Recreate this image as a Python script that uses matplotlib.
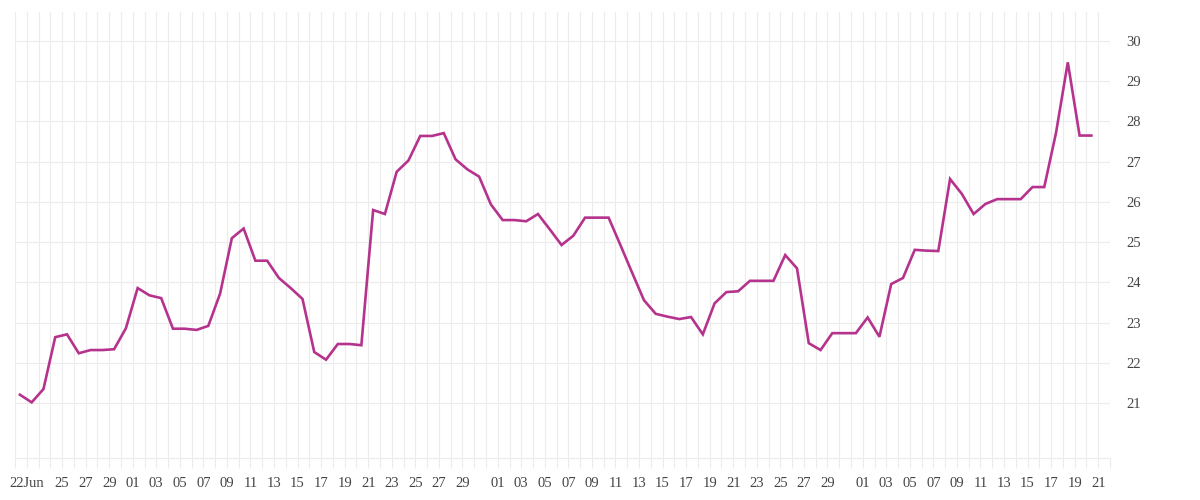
import pandas as pd
import matplotlib
matplotlib.use("Agg")
import matplotlib.pyplot as plt

# daily series, one reading per day (sampled mid-morning)
start = "2023-06-21 10:00"
values = [
    21.21, 21.02, 21.35, 22.64, 22.71, 22.24, 22.32, 22.32, 22.34, 22.86,
    23.86, 23.68, 23.61, 22.85, 22.85, 22.82, 22.92, 23.72, 25.10, 25.34,
    24.54, 24.54, 24.11, 23.86, 23.59, 22.27, 22.08, 22.47, 22.47, 22.44,
    25.80, 25.70, 26.75, 27.03, 27.64, 27.64, 27.71, 27.06, 26.81, 26.63,
    25.94, 25.55, 25.55, 25.52, 25.70, 25.32, 24.93, 25.16, 25.61, 25.61,
    25.61, 24.93, 24.24, 23.56, 23.22, 23.15, 23.09, 23.14, 22.71, 23.48,
    23.76, 23.78, 24.04, 24.04, 24.04, 24.68, 24.35, 22.49, 22.32, 22.74,
    22.74, 22.74, 23.13, 22.65, 23.96, 24.11, 24.81, 24.79, 24.78, 26.57,
    26.20, 25.70, 25.95, 26.07, 26.07, 26.07, 26.37, 26.37, 27.72, 29.47,
    27.65, 27.65,
]
y_ticks = [21, 22, 23, 24, 25, 26, 27, 28, 29, 30]
x_start, x_end = "2023-06-21", "2023-09-22"

GRID = "#ececec"
LINE = "#b5338d"
TEXT = "#444444"

dates = pd.date_range(start, periods=len(values), freq="D")

# every day gets a grid line, odd days get a label (22Jun as the first)
all_days = pd.date_range(x_start, x_end, freq="D")
major = [pd.Timestamp("2023-06-22")]
for d in all_days:
    if d.day % 2 == 1 and d.day != 31 and d > pd.Timestamp("2023-06-24") and d < pd.Timestamp(x_end):
        major.append(d)
labels = ["22Jun"] + [d.strftime("%d") for d in major[1:]]

fig = plt.figure(figsize=(12, 5), dpi=100)
ax = fig.add_axes([0.0125, 0.0834, 0.9125, 0.8926])

ax.plot(dates, values, color=LINE, lw=1.9, solid_joinstyle="miter")

ax.set_xlim(pd.Timestamp(x_start), pd.Timestamp(x_end))
ax.set_ylim(19.63, 30.72)

ax.set_xticks(all_days, minor=True)
ax.set_xticks(major)
ax.set_xticklabels(labels, family="Liberation Serif", fontsize=10.5, color=TEXT)
ax.grid(axis="x", which="both", color=GRID, lw=0.8)
ax.tick_params(axis="x", which="both", length=7.2, width=0.8, color=GRID, pad=6)

ax.yaxis.tick_right()
ax.set_yticks(y_ticks)
ax.set_yticklabels([str(v) for v in y_ticks], family="Liberation Serif",
                   fontsize=10.5, color=TEXT)
ax.tick_params(axis="y", length=0, pad=12)
ax.grid(axis="y", which="major", color=GRID, lw=0.8)

for side in ["top", "left", "right"]:
    ax.spines[side].set_visible(False)
ax.spines["bottom"].set_color(GRID)
ax.spines["bottom"].set_linewidth(0.8)
ax.set_axisbelow(True)

fig.savefig("out.png", dpi=100)
